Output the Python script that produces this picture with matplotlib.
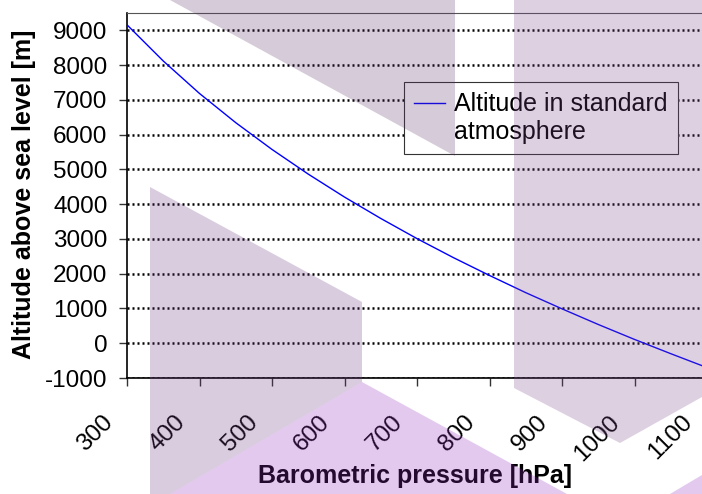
import numpy as np
import matplotlib
matplotlib.use("Agg")
import matplotlib.pyplot as plt
from matplotlib.patches import Polygon
from matplotlib.legend_handler import HandlerLine2D
import matplotlib.transforms as mtransforms

plt.rcParams['font.family'] = ['Liberation Sans', 'DejaVu Sans']
plt.rcParams['axes.unicode_minus'] = False

# values
pressure = [300, 350, 400, 450, 500, 550, 600, 650, 700, 750,
            800, 850, 900, 950, 1000, 1050, 1100]
altitude = [9160, 8120, 7185, 6345, 5575, 4865, 4205, 3590, 3010, 2465,
            1950, 1455, 990, 540, 110, -300, -700]
x_ticks = [300, 400, 500, 600, 700, 800, 900, 1000, 1100]
y_ticks = [-1000, 0, 1000, 2000, 3000, 4000, 5000, 6000, 7000, 8000, 9000]
series_name = "Altitude in standard\natmosphere"


class TopLine(HandlerLine2D):
    # put the legend line next to the first text line
    def create_artists(self, legend, orig_handle, xdescent, ydescent,
                       width, height, fontsize, trans):
        arts = super().create_artists(legend, orig_handle, xdescent, ydescent,
                                      width, height, fontsize, trans)
        for a in arts:
            y = np.asarray(a.get_ydata(), dtype=float)
            a.set_ydata(y + 0.62 * fontsize)
        return arts


W, H = 702, 494
fig = plt.figure(figsize=(W / 100, H / 100), dpi=100)
ax = fig.add_axes([127 / W, 1 - 378 / H, 580 / W, 365 / H])

line, = ax.plot(pressure, altitude, color='#0000ff', lw=1.0, zorder=3)

ax.set_xlim(300, 1100)
ax.set_ylim(-1000, 9500)
ax.set_xticks(x_ticks)
ax.set_yticks(y_ticks)
ax.set_xticklabels([str(v) for v in x_ticks], rotation=45, ha='right', va='top')
ax.tick_params(axis='both', direction='out', length=6, width=1, color='#333333',
               labelsize=17.5)
ax.tick_params(axis='x', pad=18)
ax.tick_params(axis='y', pad=8)
off = mtransforms.ScaledTranslation(-10 / 100, 0, fig.dpi_scale_trans)
for lab in ax.get_xticklabels():
    lab.set_transform(lab.get_transform() + off)

ax.yaxis.grid(True, color='black', linestyle=(0, (0.8, 1.2)), linewidth=1.8)
ax.set_axisbelow(True)
ax.spines['left'].set_linewidth(1.2)
ax.spines['bottom'].set_linewidth(1.2)
ax.spines['top'].set_color('#555555')
ax.spines['top'].set_linewidth(0.8)
ax.spines['right'].set_visible(False)

ax.set_xlabel("Barometric pressure [hPa]", fontsize=18, fontweight='bold', va='center')
ax.xaxis.set_label_coords(0.4957, -0.268)
ax.set_ylabel("Altitude above sea level [m]", fontsize=18, fontweight='bold', va='center')
ax.yaxis.set_label_coords(-0.178, 0.504)

leg = ax.legend([line], [series_name], loc='upper left',
                bbox_to_anchor=(404 / W, 1 - 82 / H), bbox_transform=fig.transFigure,
                borderaxespad=0, fontsize=18, frameon=True, fancybox=False,
                handlelength=1.25, handletextpad=0.35, borderpad=0.4,
                labelspacing=0.2, handler_map={line: TopLine()})
leg.get_frame().set_edgecolor('#333333')
leg.get_frame().set_linewidth(0.8)
leg.get_frame().set_facecolor('white')
leg.get_frame().set_alpha(1)

# translucent watermark shapes laid over the picture
shapes = [
    ([(170, 0), (455, 0), (455, 156)], '#5c3064'),
    ([(150, 187), (362, 302), (362, 382), (170, 494), (150, 494)], '#64347c'),
    ([(170, 494), (362, 382), (567, 494)], '#9028bc'),
    ([(514, 0), (702, 0), (702, 397), (620, 443), (514, 388)], '#78448a'),
    ([(670, 494), (702, 475), (702, 494)], '#9028bc'),
]
for pts, col in shapes:
    poly = Polygon([(x / W, 1 - y / H) for x, y in pts], closed=True,
                   transform=fig.transFigure, facecolor=col, edgecolor='none',
                   alpha=0.25, zorder=10)
    fig.add_artist(poly)

fig.savefig("out.png", dpi=100)
